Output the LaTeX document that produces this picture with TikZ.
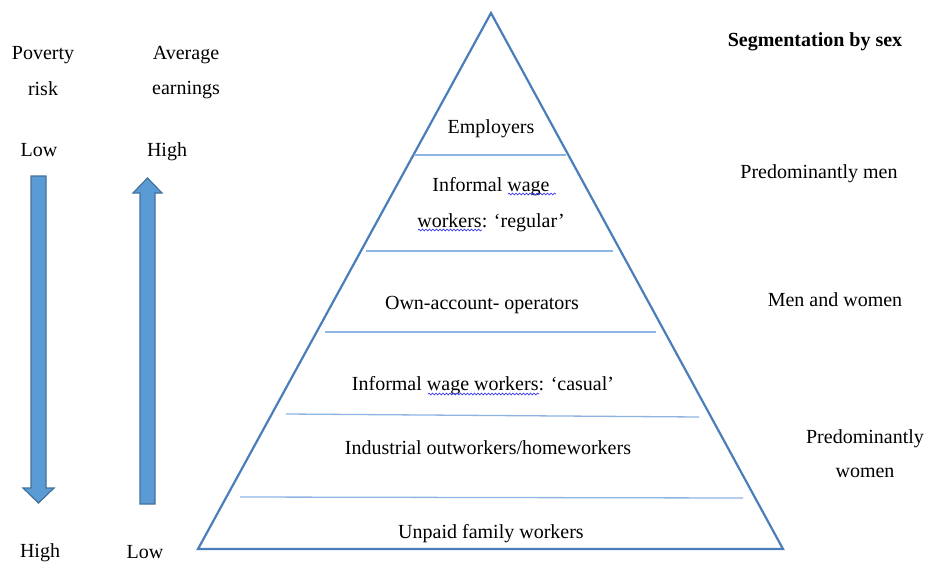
\documentclass[tikz,border=0pt]{standalone}
\usepackage{fontspec}
\setmainfont{Liberation Serif}
\usetikzlibrary{decorations.pathmorphing}
\definecolor{edgeblue}{HTML}{4A7EBB}
\definecolor{tierblue}{HTML}{8DB4E2}
\definecolor{arrowfill}{HTML}{5B9BD5}
\definecolor{arrowedge}{HTML}{41719C}
\definecolor{spellblue}{HTML}{3B3BF0}
\begin{document}
\begin{tikzpicture}[x=1pt,y=-1pt,
  txt/.style={anchor=base,inner sep=0pt,font=\fontsize{20}{24}\selectfont},
  tier/.style={tierblue,line width=1.3pt},
  band/.style={fill=arrowfill,draw=arrowedge,line width=1.2pt,line join=miter},
  squiggle/.style={spellblue,line width=0.7pt,decorate,
    decoration={snake,amplitude=0.9pt,segment length=3.5pt}}]
\useasboundingbox (0,0) rectangle (927,563);

% pyramid outline
\coordinate (apex) at (491,13);
\coordinate (bl) at (198,549);
\coordinate (br) at (783,549);
\draw[edgeblue,line width=2.2pt,line join=miter] (apex) -- (br) -- (bl) -- cycle;

% tier separators
\coordinate (t1l) at (414,155); \coordinate (t1r) at (566,155);
\coordinate (t2l) at (366,251); \coordinate (t2r) at (613,251);
\coordinate (t3l) at (325,332); \coordinate (t3r) at (656,332);
\coordinate (t4l) at (286,414); \coordinate (t4r) at (699,417);
\coordinate (t5l) at (240,497); \coordinate (t5r) at (743,498);
\foreach \i in {1,...,5} \draw[tier] (t\i l) -- (t\i r);

% tier labels
\node[txt] (emp) at (491,133) {Employers};
\node[txt] (reg1) at (491,191) {Informal wage};
\node[txt] (reg2) at (491,227) {workers: ‘regular’};
\node[txt] (own) at (482,309) {Own-account- operators};
\node[txt] (cas) at (483,390) {Informal wage workers: ‘casual’};
\node[txt] (ind) at (488,454) {Industrial outworkers/homeworkers};
\node[txt] (unp) at (491,538) {Unpaid family workers};

% spelling marks
\draw[squiggle] (508,194) -- (556,194);
\draw[squiggle] (418,230) -- (482,230);
\draw[squiggle] (428,394) -- (539,394);

% left scales
\node[txt] (pov1) at (43,59) {Poverty};
\node[txt] (pov2) at (43,95) {risk};
\node[txt] (avg1) at (186,59) {Average};
\node[txt] (avg2) at (186,94) {earnings};
\node[txt] (povlow) at (39,156) {Low};
\node[txt] (avghigh) at (167,156) {High};
\node[txt] (povhigh) at (40,557) {High};
\node[txt] (avglow) at (145,558) {Low};

\draw[band] (31,176) -- (46,176) -- (46,488) -- (54,488) -- (38.5,503)
  -- (23,488) -- (31,488) -- cycle;
\draw[band] (140,504) -- (155,504) -- (155,193) -- (162,193) -- (147.5,178)
  -- (133,193) -- (140,193) -- cycle;

% segmentation column
\node[txt,font=\fontsize{20}{24}\selectfont\bfseries] (seg) at (815,46) {Segmentation by sex};
\node[txt] (men) at (819,178) {Predominantly men};
\node[txt] (mw) at (835,306) {Men and women};
\node[txt] (wom1) at (865,443) {Predominantly};
\node[txt] (wom2) at (865,477) {women};
\end{tikzpicture}
\end{document}
